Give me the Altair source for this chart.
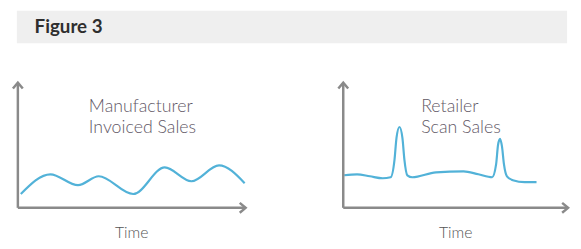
import altair as alt
import pandas as pd

# ---- data ----
TITLE = "Figure 3"
LEFT_LABEL = "Manufacturer\nInvoiced Sales"
RIGHT_LABEL = "Retailer\nScan Sales"
AXIS_TITLE = "Time"

left_time = [0, 30, 58, 79, 114, 146, 173, 201, 227]
left_sales = [14, 34, 23, 32, 14, 41, 27, 43, 25]

right_time = [0, 13, 26, 39, 47, 51, 53, 56, 59, 61, 64, 69, 93, 121, 136,
              150, 154, 156, 158, 160, 162, 165, 171, 183, 195]
right_sales = [33, 34, 32, 30, 31, 49, 71, 82, 71, 49, 33, 31, 36, 37, 34,
               31, 44, 64, 70, 62, 44, 32, 28, 26, 26]

AXIS_COLOR = "#8a8a8a"
LINE_COLOR = "#52b2d8"
TEXT_COLOR = "#625866"
TIME_COLOR = "#555555"
FONT = "Lato"

one = pd.DataFrame({"k": [0]})


def panel(times, sales, label, label_x, x_range, x_domain, width, axis_end):
    df = pd.DataFrame({"t": times, "v": sales})
    line = alt.Chart(df).mark_line(
        interpolate="monotone", color=LINE_COLOR, strokeWidth=2.2
    ).encode(
        x=alt.X("t:Q", scale=alt.Scale(domain=x_domain, range=x_range, nice=False, zero=False), axis=None),
        y=alt.Y("v:Q", scale=alt.Scale(domain=[0, 127], range=[127, 0], nice=False, zero=False), axis=None),
    )
    yaxis = alt.Chart(one).mark_rule(color=AXIS_COLOR, strokeWidth=2.5).encode(
        x=alt.value(8), y=alt.value(1), y2=alt.value(127)
    )
    xaxis = alt.Chart(one).mark_rule(color=AXIS_COLOR, strokeWidth=2.5).encode(
        x=alt.value(8), x2=alt.value(axis_end - 1), y=alt.value(127)
    )
    up = alt.Chart(one).mark_point(
        shape="M-1,1.2L0,0L1,1.2", size=100, filled=False,
        stroke=AXIS_COLOR, strokeWidth=2.5, opacity=1
    ).encode(x=alt.value(8), y=alt.value(0))
    right = alt.Chart(one).mark_point(
        shape="M-1.2,-1L0,0L-1.2,1", size=100, filled=False,
        stroke=AXIS_COLOR, strokeWidth=2.5, opacity=1
    ).encode(x=alt.value(axis_end), y=alt.value(127))
    lab = alt.Chart(pd.DataFrame({"label": [label]})).mark_text(
        align="left", baseline="alphabetic", font=FONT, fontSize=18,
        fontWeight=300, color=TEXT_COLOR, lineBreak="\n", lineHeight=21
    ).encode(x=alt.value(label_x), y=alt.value(30), text="label:N")
    time = alt.Chart(pd.DataFrame({"label": [AXIS_TITLE]})).mark_text(
        align="center", baseline="alphabetic", font=FONT, fontSize=16,
        fontWeight=300, color=TIME_COLOR
    ).encode(x=alt.value((8 + axis_end) / 2), y=alt.value(158), text="label:N")
    return alt.layer(line, yaxis, xaxis, up, right, lab, time).properties(
        width=width, height=158
    )


header = alt.layer(
    alt.Chart(one).mark_rect(color="#efefef").encode(
        x=alt.value(7), x2=alt.value(565), y=alt.value(1), y2=alt.value(34)
    ),
    alt.Chart(pd.DataFrame({"title": [TITLE]})).mark_text(
        align="left", baseline="alphabetic", font=FONT, fontSize=19,
        fontWeight="bold", color="#2e2e2e"
    ).encode(x=alt.value(25), y=alt.value(24), text="title:N"),
).properties(width=565, height=34)

left_panel = panel(left_time, left_sales, LEFT_LABEL, 80, [11, 238], [0, 227], 300, 239)
right_panel = panel(right_time, right_sales, RIGHT_LABEL, 87, [9, 204], [0, 195], 235, 236)

row = alt.hconcat(left_panel, right_panel, spacing=30, bounds="flush")
chart = alt.vconcat(header, row, spacing=40, bounds="flush").properties(
    padding=0, background="white"
).configure_view(stroke=None)

chart.save("out.html", embed_options={"renderer": "svg", "actions": False})
